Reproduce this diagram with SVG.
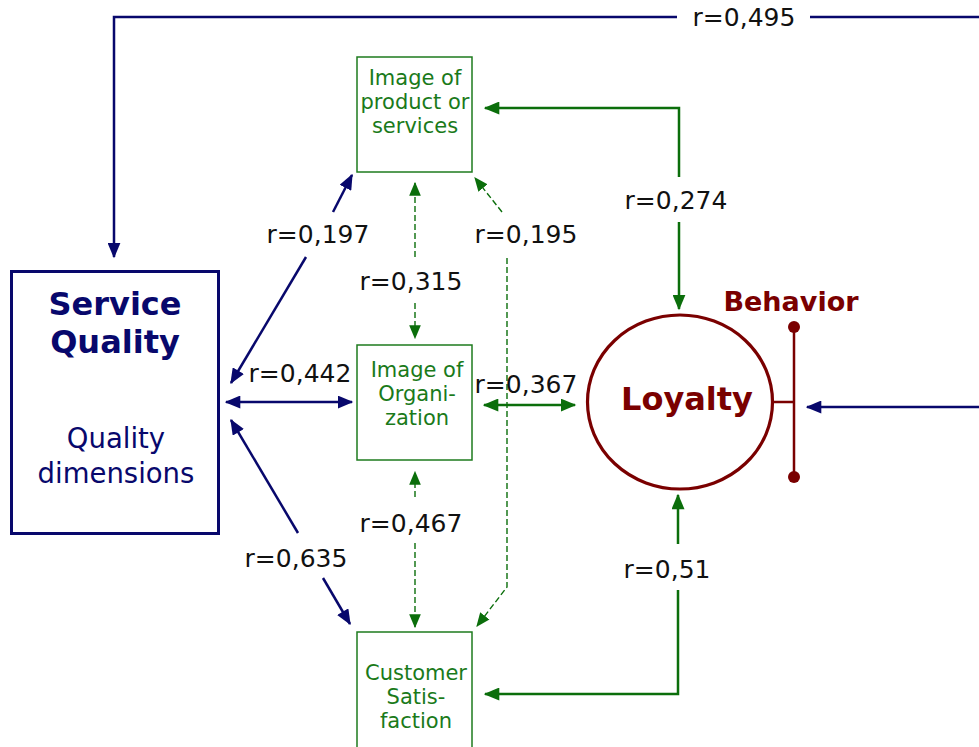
<svg xmlns="http://www.w3.org/2000/svg" width="979" height="747" viewBox="0 0 979 747">
  <style>
    .navy { stroke: #08086c; stroke-width: 2.5; fill: none; }
    .grn { stroke: #0b6e0b; stroke-width: 2.5; fill: none; }
    .dash { stroke: #0b6e0b; stroke-width: 1.4; fill: none; stroke-dasharray: 6 3; }
    .lbl { font-family: "DejaVu Sans", Verdana, sans-serif; font-size: 25px; fill: #111; text-anchor: middle; }
    .box { fill: #fff; stroke: #1e7b1e; stroke-width: 1.5; }
    .boxt { font-family: "DejaVu Sans", Verdana, sans-serif; font-size: 21px; fill: #1a7a1a; text-anchor: middle; }
  </style>
  <defs>
    <marker id="aN" viewBox="0 0 12 10" refX="11" refY="5" markerWidth="16" markerHeight="13" markerUnits="userSpaceOnUse" orient="auto-start-reverse">
      <path d="M0,0 L12,5 L0,10 z" fill="#08086c"/>
    </marker>
    <marker id="aG" viewBox="0 0 12 10" refX="11" refY="5" markerWidth="16" markerHeight="13" markerUnits="userSpaceOnUse" orient="auto-start-reverse">
      <path d="M0,0 L12,5 L0,10 z" fill="#0b6e0b"/>
    </marker>
    <marker id="aD" viewBox="0 0 12 10" refX="11" refY="5" markerWidth="14" markerHeight="12" markerUnits="userSpaceOnUse" orient="auto-start-reverse">
      <path d="M0,0 L12,5 L0,10 z" fill="#0b6e0b"/>
    </marker>
  </defs>

  <!-- connectors -->
  <g id="connectors">
    <!-- r=0,495 loop over the top -->
    <path class="navy" d="M677,17 H114 V257" marker-end="url(#aN)"/>
    <path class="navy" d="M810,17 H979"/>
    <text class="lbl" x="744" y="26">r=0,495</text>

    <!-- r=0,197 -->
    <path class="navy" d="M333,212 L352,175" marker-end="url(#aN)"/>
    <path class="navy" d="M306,257 L231,383" marker-end="url(#aN)"/>
    <text class="lbl" x="318" y="243">r=0,197</text>

    <!-- r=0,442 -->
    <path class="navy" d="M226,402 H352" marker-start="url(#aN)" marker-end="url(#aN)"/>
    <text class="lbl" x="300" y="382">r=0,442</text>

    <!-- r=0,635 -->
    <path class="navy" d="M298,533 L231,420" marker-end="url(#aN)"/>
    <path class="navy" d="M323,578 L350,624" marker-end="url(#aN)"/>
    <text class="lbl" x="296" y="567">r=0,635</text>

    <!-- r=0,315 -->
    <path class="dash" d="M415,257 V183" marker-end="url(#aD)"/>
    <path class="dash" d="M415,303 V338" marker-end="url(#aD)"/>
    <text class="lbl" x="411" y="290">r=0,315</text>

    <!-- r=0,467 -->
    <path class="dash" d="M415,497 V472" marker-end="url(#aD)"/>
    <path class="dash" d="M415,543 V627" marker-end="url(#aD)"/>
    <text class="lbl" x="411" y="532">r=0,467</text>

    <!-- r=0,195 -->
    <path class="dash" d="M502,212 L475,178" marker-end="url(#aD)"/>
    <path class="dash" d="M507,258 V587 L477,626" marker-end="url(#aD)"/>
    <text class="lbl" x="526" y="243">r=0,195</text>

    <!-- r=0,367 -->
    <path class="grn" d="M484,405 H575" marker-start="url(#aG)" marker-end="url(#aG)"/>
    <text class="lbl" x="526" y="393">r=0,367</text>

    <!-- r=0,274 -->
    <path class="grn" d="M679,177 V108 H485" marker-end="url(#aG)"/>
    <path class="grn" d="M679,222 V309" marker-end="url(#aG)"/>
    <text class="lbl" x="676" y="209">r=0,274</text>

    <!-- r=0,51 -->
    <path class="grn" d="M678,544 V495" marker-end="url(#aG)"/>
    <path class="grn" d="M678,590 V694 H485" marker-end="url(#aG)"/>
    <text class="lbl" x="667" y="578">r=0,51</text>

    <!-- input into behavior -->
    <path class="navy" d="M979,407 H807" marker-end="url(#aN)"/>
  </g>

  <!-- Service Quality -->
  <g id="service-quality">
    <rect x="11.5" y="271.5" width="207" height="262" fill="#fff" stroke="#08086c" stroke-width="3"/>
    <text x="115" y="315" font-family="'DejaVu Sans', Verdana, sans-serif" font-size="32" font-weight="bold" fill="#08086c" text-anchor="middle">Service</text>
    <text x="115" y="353" font-family="'DejaVu Sans', Verdana, sans-serif" font-size="32" font-weight="bold" fill="#08086c" text-anchor="middle">Quality</text>
    <text x="116" y="448" font-family="'DejaVu Sans', Verdana, sans-serif" font-size="27.5" fill="#08086c" text-anchor="middle">Quality</text>
    <text x="116" y="483" font-family="'DejaVu Sans', Verdana, sans-serif" font-size="27.5" fill="#08086c" text-anchor="middle">dimensions</text>
  </g>

  <!-- Image of product or services -->
  <g id="image-product">
    <rect class="box" x="357" y="57" width="115" height="115"/>
    <text class="boxt" x="415" y="85">Image of</text>
    <text class="boxt" x="415" y="109">product or</text>
    <text class="boxt" x="415" y="133">services</text>
  </g>

  <!-- Image of Organization -->
  <g id="image-organization">
    <rect class="box" x="357" y="345" width="115" height="115"/>
    <text class="boxt" x="417" y="377">Image of</text>
    <text class="boxt" x="417" y="401">Organi-</text>
    <text class="boxt" x="417" y="425">zation</text>
  </g>

  <!-- Customer Satisfaction -->
  <g id="customer-satisfaction">
    <rect class="box" x="357" y="632" width="115" height="130"/>
    <text class="boxt" x="416" y="680">Customer</text>
    <text class="boxt" x="416" y="704">Satis-</text>
    <text class="boxt" x="416" y="728">faction</text>
  </g>

  <!-- Loyalty with behavior bracket -->
  <g id="loyalty">
    <ellipse cx="680" cy="402" rx="92.5" ry="87" fill="#fff" stroke="#7a0000" stroke-width="3.2"/>
    <text x="687" y="410" font-family="'DejaVu Sans', Verdana, sans-serif" font-size="32" font-weight="bold" fill="#7a0000" text-anchor="middle">Loyalty</text>
    <path d="M773,402 H794 M794,327 V477" stroke="#7a0000" stroke-width="2.5" fill="none"/>
    <circle cx="794" cy="327" r="6" fill="#7a0000"/>
    <circle cx="794" cy="477" r="6" fill="#7a0000"/>
    <text x="791" y="311" font-family="'DejaVu Sans', Verdana, sans-serif" font-size="27" font-weight="bold" fill="#7a0000" text-anchor="middle">Behavior</text>
  </g>
</svg>
